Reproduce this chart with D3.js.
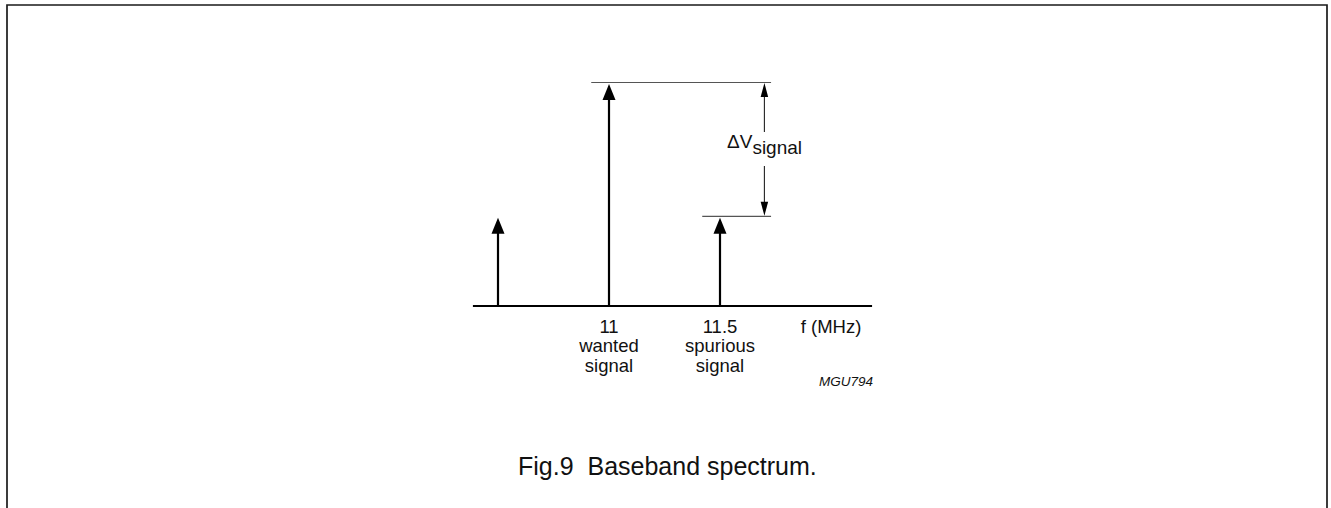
<!DOCTYPE html>
<html>
<head>
<meta charset="utf-8">
<script src="https://cdn.jsdelivr.net/npm/d3@7/dist/d3.min.js"></script>
<style>
  html, body { margin: 0; padding: 0; background: #fff; }
  svg { display: block; }
  text { font-family: "Liberation Sans", Arial, Helvetica, sans-serif; fill: #111; }
</style>
</head>
<body>
<svg id="chart" width="1331" height="508"></svg>
<script>
// ---- data ----
const frequencies = [10.5, 11, 11.5];            // MHz
const amplitudes  = [0.4, 1.0, 0.4];             // relative level
const tickFreqs   = [11, 11.5];
const tickLabels  = [["11", "wanted", "signal"], ["11.5", "spurious", "signal"]];
const axisDomain  = [10.387, 12.185];
const axisTitleAt = 12;
const axisTitle   = "f (MHz)";
const deltaLabel  = ["ΔV", "signal"];
const refLines    = [ {from: 10.92, to: 11.73, level: 1.0}, {from: 11.42, to: 11.73, level: 0.4} ];
const dimFreq     = 11.70;
const figCode     = "MGU794";
const caption     = "Fig.9  Baseband spectrum.";

// ---- scales ----
const x = d3.scaleLinear().domain([11, 11.5]).range([609, 720]);
const y = d3.scaleLinear().domain([0, 1]).range([306, 83]);

const svg = d3.select("#chart");

// frame (open at bottom)
svg.append("path")
  .attr("d", "M7,508 L7,5 L1327,5 L1327,508")
  .attr("fill", "none").attr("stroke", "#1a1a1a").attr("stroke-width", 1.7);

// baseline axis
svg.append("line")
  .attr("x1", x(axisDomain[0])).attr("x2", x(axisDomain[1]))
  .attr("y1", y(0)).attr("y2", y(0))
  .attr("stroke", "#000").attr("stroke-width", 2);

// reference lines
svg.selectAll(".ref").data(refLines).enter().append("line")
  .attr("class", "ref")
  .attr("x1", d => x(d.from)).attr("x2", d => x(d.to))
  .attr("y1", d => y(d.level) - 0.5).attr("y2", d => y(d.level) - 0.5)
  .attr("stroke", "#555").attr("stroke-width", 1.2);

// spectral lines with arrowheads
const headW = 13, headH = 16;
const lines = frequencies.map((f, i) => ({f, a: amplitudes[i]}));
svg.selectAll(".stem").data(lines).enter().append("line")
  .attr("class", "stem")
  .attr("x1", d => x(d.f)).attr("x2", d => x(d.f))
  .attr("y1", y(0)).attr("y2", d => y(d.a) + headH - 1)
  .attr("stroke", "#000").attr("stroke-width", 2.2);
svg.selectAll(".head").data(lines).enter().append("path")
  .attr("class", "head")
  .attr("d", d => {
    const cx = x(d.f), ty = y(d.a) + 1;
    return `M${cx},${ty} L${cx + headW/2},${ty + headH} L${cx - headW/2},${ty + headH} Z`;
  })
  .attr("fill", "#000");

// dimension line ΔV
const dx = x(dimFreq);
const topY = y(refLines[0].level), botY = y(refLines[1].level);
const dW = 7.5, dH = 14;
svg.append("line").attr("x1", dx).attr("x2", dx)
  .attr("y1", topY + dH).attr("y2", 132)
  .attr("stroke", "#222").attr("stroke-width", 1.1);
svg.append("line").attr("x1", dx).attr("x2", dx)
  .attr("y1", 166).attr("y2", botY - dH)
  .attr("stroke", "#222").attr("stroke-width", 1.1);
svg.append("path")
  .attr("d", `M${dx},${topY} L${dx + dW/2},${topY + dH} L${dx - dW/2},${topY + dH} Z`)
  .attr("fill", "#000");
svg.append("path")
  .attr("d", `M${dx},${botY - 1} L${dx + dW/2},${botY - 1 - dH} L${dx - dW/2},${botY - 1 - dH} Z`)
  .attr("fill", "#000");

const dl = svg.append("text")
  .attr("x", 727).attr("y", 147.5)
  .attr("font-size", 19);
dl.append("tspan").text(deltaLabel[0]);
dl.append("tspan").attr("dy", 6).text(deltaLabel[1]);

// tick labels
const tickG = svg.selectAll(".tick").data(tickFreqs).enter().append("text")
  .attr("class", "tick")
  .attr("text-anchor", "middle")
  .attr("font-size", 18.5);
tickG.each(function(f, i) {
  const t = d3.select(this);
  tickLabels[i].forEach((s, k) => {
    t.append("tspan").attr("x", x(f)).attr("y", 332.5 + k * 19.5).text(s);
  });
});

// axis title
svg.append("text")
  .attr("x", x(axisTitleAt)).attr("y", 332.5)
  .attr("text-anchor", "middle").attr("font-size", 18.5)
  .text(axisTitle);

// figure code
svg.append("text")
  .attr("x", x(axisDomain[1]) + 1).attr("y", 386)
  .attr("text-anchor", "end").attr("font-size", 13.5)
  .attr("font-style", "italic")
  .text(figCode);

// caption
svg.append("text")
  .attr("x", 518).attr("y", 475)
  .attr("font-size", 25)
  .attr("xml:space", "preserve")
  .style("white-space", "pre")
  .text(caption);
</script>
</body>
</html>
